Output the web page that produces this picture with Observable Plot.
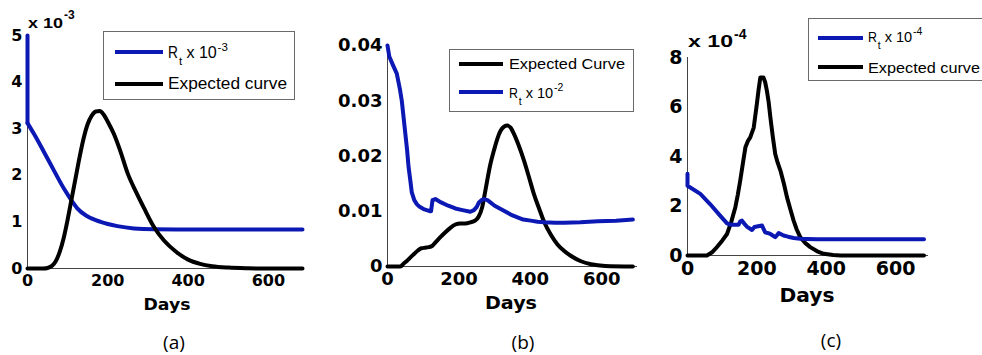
<!DOCTYPE html>
<html><head><meta charset="utf-8">
<script src="https://cdn.jsdelivr.net/npm/d3@7"></script>
<script src="https://cdn.jsdelivr.net/npm/@observablehq/plot@0.6"></script>
<style>
html,body{margin:0;padding:0;background:#fff;}
#wrap{position:relative;width:982px;height:355px;overflow:hidden;background:#fff;}
#wrap svg{position:absolute;overflow:visible;}
</style></head><body><div id="wrap"></div>
<script>
// ---------- data ----------
const xTicks = [0, 200, 400, 600];

// Panel (a): values in units of 10^-3
const aYTicks = [0, 1, 2, 3, 4, 5];
const aRtDays = [0, 0, 16, 41, 66, 91, 112, 124, 149, 182, 224, 265, 315, 400, 500, 600, 685];
const aRtVals = [5.0, 3.12, 2.89, 2.5, 2.1, 1.71, 1.43, 1.29, 1.12, 1.0, 0.91, 0.86, 0.84, 0.835, 0.835, 0.835, 0.835];
const aEcDays = [0, 40, 50, 60, 70, 80, 90, 100, 110, 120, 130, 140, 150, 160, 170, 180, 190, 200, 215, 230, 250, 270, 290, 315, 340, 370, 400, 430, 460, 500, 550, 600, 685];
const aEcVals = [0, 0, 0.01, 0.05, 0.15, 0.35, 0.65, 1.05, 1.5, 1.95, 2.4, 2.8, 3.1, 3.28, 3.37, 3.38, 3.3, 3.15, 2.89, 2.55, 2.03, 1.65, 1.3, 0.89, 0.6, 0.36, 0.19, 0.1, 0.05, 0.02, 0.005, 0, 0];

// Panel (b)
const bYTicks = [0, 0.01, 0.02, 0.03, 0.04];
const bRtDays = [0, 5, 15, 26, 35, 40, 45, 50, 55, 59, 64, 68, 75, 82, 90, 101, 110, 120, 122, 126, 134, 150, 170, 190, 210, 232, 242, 250, 256, 263, 270, 280, 288, 300, 326, 345, 364, 380, 401, 420, 439, 470, 495, 540, 589, 640, 687];
const bRtVals = [0.040, 0.038, 0.0365, 0.0349, 0.032, 0.030, 0.027, 0.024, 0.021, 0.018, 0.0155, 0.0134, 0.012, 0.0113, 0.0108, 0.0104, 0.0102, 0.0100, 0.0100, 0.0120, 0.0122, 0.0116, 0.0110, 0.0105, 0.0102, 0.0099, 0.0102, 0.0108, 0.0116, 0.0120, 0.0122, 0.0120, 0.0116, 0.0110, 0.0101, 0.0094, 0.0089, 0.0085, 0.0083, 0.0081, 0.0080, 0.0079, 0.0079, 0.0080, 0.0082, 0.0083, 0.0085];
const bEcDays = [0, 36, 45, 54, 65, 75, 85, 95, 106, 115, 125, 135, 148, 162, 176, 190, 204, 218, 232, 245, 255, 265, 272, 279, 288, 298, 308, 317, 326, 336, 345, 354, 368, 382, 396, 410, 425, 439, 457, 476, 495, 514, 540, 570, 610, 687];
const bEcVals = [0, 0, 0.0005, 0.0010, 0.0017, 0.0023, 0.0029, 0.0033, 0.0034, 0.0035, 0.0037, 0.0044, 0.0053, 0.0062, 0.0070, 0.0076, 0.0078, 0.0078, 0.0080, 0.0083, 0.0090, 0.0107, 0.0130, 0.0155, 0.0185, 0.0210, 0.0232, 0.0246, 0.0253, 0.0255, 0.0251, 0.0240, 0.0218, 0.0192, 0.0162, 0.0131, 0.0104, 0.0080, 0.0058, 0.0040, 0.0028, 0.0019, 0.0010, 0.0004, 0.0001, 0];

// Panel (c): values in units of 10^-4
const cYTicks = [0, 2, 4, 6, 8];
const cRtDays = [0, 0, 37, 65, 94, 114, 125, 133, 147, 152, 157, 163, 171, 186, 193, 200, 215, 220, 224, 239, 253, 258, 263, 277, 290, 306, 325, 345, 374, 450, 550, 682];
const cRtVals = [3.3, 2.82, 2.49, 2.08, 1.61, 1.3, 1.24, 1.24, 1.24, 1.38, 1.41, 1.3, 1.17, 1.03, 1.15, 1.17, 1.21, 1.05, 0.94, 0.87, 0.74, 0.82, 0.91, 0.81, 0.76, 0.71, 0.68, 0.67, 0.66, 0.66, 0.66, 0.66];
const cEcDays = [0, 56, 70, 85, 100, 114, 126, 138, 145, 152, 160, 167, 174, 181, 191, 200, 205, 210, 219, 224, 229, 234, 239, 246, 253, 260, 268, 278, 287, 297, 306, 315, 325, 340, 354, 374, 393, 420, 441, 682];
const cEcVals = [0, 0, 0.12, 0.34, 0.6, 0.87, 1.35, 1.95, 2.45, 3.02, 3.75, 4.37, 4.62, 4.77, 5.17, 6.12, 6.7, 7.19, 7.19, 7.0, 6.65, 6.2, 5.58, 4.8, 4.1, 3.75, 3.43, 2.9, 2.35, 1.85, 1.41, 1.05, 0.74, 0.5, 0.34, 0.17, 0.07, 0.02, 0, 0];

// ---------- drawing ----------
const BLUE = "#0c18b4", BLACK = "#000";
const wrap = document.getElementById("wrap");
const pts = (xs, ys) => xs.map((x, i) => ({x, y: ys[i]}));

function panel(o) {
  const svg = Plot.plot({
    width: o.width, height: o.height,
    marginTop: o.m[0], marginRight: o.m[1], marginBottom: o.m[2], marginLeft: o.m[3],
    style: {fontFamily: "DejaVu Sans", fontSize: o.fs + "px", fontWeight: "bold", color: "#000", background: "transparent", overflow: "visible"},
    x: {domain: o.xDomain, ticks: xTicks, tickSize: 0, tickPadding: 6, label: null},
    y: {domain: o.yDomain, ticks: o.yTicks, tickSize: 0, tickPadding: 5, label: null, tickFormat: o.yFormat},
    marks: [
      Plot.ruleY([0], {stroke: "#444", strokeWidth: 1}),
      Plot.ruleX([0], {stroke: "#444", strokeWidth: 1}),
      ...o.lines.map(l => Plot.line(l.data, {x: "x", y: "y", stroke: l.color, strokeWidth: 4, curve: l.curve || "linear", strokeLinejoin: "round"}))
    ]
  });
  svg.style.left = o.left + "px";
  svg.style.top = o.top + "px";
  wrap.appendChild(svg);
}

const aRtAll = pts(aRtDays, aRtVals);
panel({left: 0, top: 0, width: 330, height: 300, m: [35, 28, 32, 27], fs: 16,
  xDomain: [0, 685], yDomain: [0, 5], yTicks: aYTicks, yFormat: d => String(d),
  lines: [
    {data: aRtAll.slice(0, 2), color: BLUE},
    {data: aRtAll.slice(1), color: BLUE, curve: "monotone-x"},
    {data: pts(aEcDays, aEcVals), color: BLACK, curve: "monotone-x"}
  ]});

panel({left: 330, top: 0, width: 330, height: 300, m: [45, 23, 34, 57], fs: 18,
  xDomain: [0, 700], yDomain: [0, 0.04], yTicks: bYTicks, yFormat: d => d === 0 ? "0" : d.toFixed(2),
  lines: [
    {data: pts(bEcDays, bEcVals), color: BLACK, curve: "monotone-x"},
    {data: pts(bRtDays, bRtVals), color: BLUE}
  ]});

panel({left: 660, top: 0, width: 322, height: 300, m: [57, 54, 45, 27], fs: 19,
  xDomain: [0, 695], yDomain: [0, 8], yTicks: cYTicks, yFormat: d => String(d),
  lines: [
    {data: pts(cEcDays, cEcVals), color: BLACK},
    {data: pts(cRtDays, cRtVals), color: BLUE}
  ]});

// ---------- overlay: legends and labels ----------
const ov = d3.select(wrap).append("svg")
  .attr("width", 982).attr("height", 355)
  .style("left", "0px").style("top", "0px").style("pointer-events", "none");

function txt(x, y, s, opt = {}) {
  const t = ov.append("text").attr("x", x).attr("y", y).text(s)
    .attr("font-family", opt.family || "Liberation Sans")
    .attr("font-size", opt.size || 16)
    .attr("font-weight", opt.weight || "normal")
    .attr("text-anchor", opt.anchor || "start")
    .attr("fill", "#000");
  if (opt.len) t.attr("textLength", opt.len).attr("lengthAdjust", "spacingAndGlyphs");
  return t;
}
function box(x, y, w, h) {
  ov.append("rect").attr("x", x + 0.5).attr("y", y + 0.5).attr("width", w).attr("height", h)
    .attr("fill", "#fff").attr("stroke", "#6a6a6a").attr("stroke-width", 1);
}
function seg(x1, x2, y, color) {
  ov.append("line").attr("x1", x1).attr("x2", x2).attr("y1", y).attr("y2", y)
    .attr("stroke", color).attr("stroke-width", 4);
}
// R_t x 10^exp, as separate positioned pieces
function rt(x, y, exp, size) {
  txt(x, y, "R", {size, len: size * 0.62});
  txt(x + size * 0.68, y + size * 0.45, "t", {size: size * 0.72});
  txt(x + size * 1.15, y, "x 10", {size, len: size * 1.9});
  txt(x + size * 3.1, y - size * 0.45, exp, {size: size * 0.72});
}

// legend (a)
box(103, 31, 191, 68);
seg(115, 163, 52, BLUE);
rt(168, 58, "-3", 16);
seg(115, 163, 84, BLACK);
txt(168, 89, "Expected curve", {size: 16, len: 119});

// legend (b)
box(449, 49, 184, 62);
seg(459, 503, 64, BLACK);
txt(509, 69, "Expected Curve", {size: 15, len: 116});
seg(459, 503, 92, BLUE);
rt(509, 98, "-2", 14.5);

// legend (c)
box(808, 18, 190, 62);
seg(818, 863, 38, BLUE);
rt(868, 42, "-4", 14.5);
seg(818, 863, 67, BLACK);
txt(868, 73, "Expected curve", {size: 15, len: 112});

// exponent labels above y axes
txt(28, 28, "x 10", {size: 15, weight: "bold", len: 35});
txt(64, 19, "-3", {size: 12, weight: "bold"});
txt(688, 47, "x 10", {size: 17, weight: "bold", len: 45});
txt(734, 39, "-4", {size: 14, weight: "bold"});

// axis titles
txt(167, 310, "Days", {family: "DejaVu Sans", size: 16, weight: "bold", anchor: "middle", len: 47});
txt(511, 309, "Days", {family: "DejaVu Sans", size: 17, weight: "bold", anchor: "middle", len: 52});
txt(807, 302, "Days", {family: "DejaVu Sans", size: 19, weight: "bold", anchor: "middle", len: 55});

// panel captions
txt(174, 349, "(a)", {family: "Open Sans", size: 19, anchor: "middle"});
txt(523, 349, "(b)", {family: "Open Sans", size: 19, anchor: "middle"});
txt(831, 347, "(c)", {family: "Open Sans", size: 19, anchor: "middle"});
</script></body></html>
